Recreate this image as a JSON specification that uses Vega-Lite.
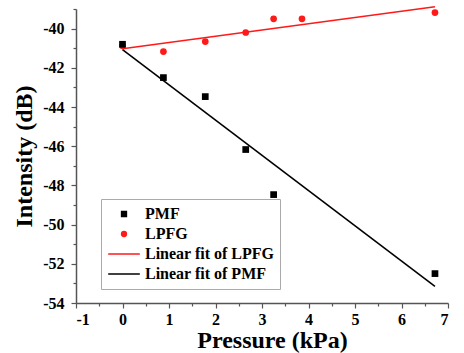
{
  "$schema": "https://vega.github.io/schema/vega-lite/v6.json",
  "width": 372,
  "height": 294,
  "autosize": {"type": "none"},
  "padding": {"left": 76, "top": 9, "right": 16, "bottom": 50},
  "background": "white",
  "config": {
    "view": {"stroke": null},
    "font": "Liberation Serif",
    "locale": {
      "number": {
        "decimal": ".",
        "thousands": ",",
        "grouping": [3],
        "currency": ["$", ""],
        "minus": "-"
      }
    }
  },
  "data": {
    "values": [
      {"sample": "LPFG", "fit": "Linear fit of LPFG", "pressure": 0, "intensity": -40.88},
      {"sample": "LPFG", "fit": "Linear fit of LPFG", "pressure": 0.88, "intensity": -41.17},
      {"sample": "LPFG", "fit": "Linear fit of LPFG", "pressure": 1.78, "intensity": -40.66},
      {"sample": "LPFG", "fit": "Linear fit of LPFG", "pressure": 2.65, "intensity": -40.2},
      {"sample": "LPFG", "fit": "Linear fit of LPFG", "pressure": 3.25, "intensity": -39.5},
      {"sample": "LPFG", "fit": "Linear fit of LPFG", "pressure": 3.86, "intensity": -39.5},
      {"sample": "LPFG", "fit": "Linear fit of LPFG", "pressure": 6.72, "intensity": -39.18},
      {"sample": "PMF", "fit": "Linear fit of PMF", "pressure": 0, "intensity": -40.8},
      {"sample": "PMF", "fit": "Linear fit of PMF", "pressure": 0.88, "intensity": -42.5},
      {"sample": "PMF", "fit": "Linear fit of PMF", "pressure": 1.78, "intensity": -43.47},
      {"sample": "PMF", "fit": "Linear fit of PMF", "pressure": 2.65, "intensity": -46.17},
      {"sample": "PMF", "fit": "Linear fit of PMF", "pressure": 3.25, "intensity": -48.47},
      {"sample": "PMF", "fit": "Linear fit of PMF", "pressure": 6.72, "intensity": -52.5}
    ]
  },
  "layer": [
    {
      "transform": [
        {"regression": "intensity", "on": "pressure", "groupby": ["fit"]}
      ],
      "mark": {"type": "line", "strokeWidth": 1.6},
      "encoding": {
        "x": {
          "field": "pressure",
          "type": "quantitative",
          "scale": {"domain": [-1, 7], "nice": false},
          "axis": {
            "orient": "bottom",
            "values": [-0.5, 0.5, 1.5, 2.5, 3.5, 4.5, 5.5, 6.5],
            "labels": false,
            "domain": false,
            "grid": false,
            "ticks": true,
            "tickColor": "#555555",
            "tickWidth": 1.2,
            "tickSize": 3,
            "title": null
          }
        },
        "y": {
          "field": "intensity",
          "type": "quantitative",
          "scale": {"domain": [-54, -39], "nice": false, "zero": false},
          "axis": {
            "orient": "left",
            "values": [-53, -51, -49, -47, -45, -43, -41, -39],
            "labels": false,
            "domain": false,
            "grid": false,
            "ticks": true,
            "tickColor": "#555555",
            "tickWidth": 1.2,
            "tickSize": 3,
            "title": null
          }
        },
        "color": {
          "field": "fit",
          "type": "nominal",
          "scale": {
            "domain": ["PMF", "LPFG", "Linear fit of LPFG", "Linear fit of PMF"],
            "range": ["#000000", "#ff1a1a", "#ff1a1a", "#000000"]
          },
          "legend": {"title": null}
        },
        "detail": {"field": "fit"}
      }
    },
    {
      "mark": {"type": "point", "filled": true, "opacity": 1},
      "encoding": {
        "x": {
          "field": "pressure",
          "type": "quantitative",
          "axis": {
            "orient": "bottom",
            "values": [-1, 0, 1, 2, 3, 4, 5, 6, 7],
            "grid": false,
            "domainColor": "#555555",
            "domainWidth": 1.5,
            "tickColor": "#555555",
            "tickWidth": 1.2,
            "tickSize": 5,
            "labelFont": "Liberation Serif",
            "labelFontWeight": "bold",
            "labelFontSize": 16,
            "labelColor": "#000000",
            "labelPadding": 3,
            "title": "Pressure (kPa)",
            "titleFont": "Liberation Serif",
            "titleFontWeight": "bold",
            "titleFontSize": 24,
            "titleColor": "#000000",
            "titlePadding": 1,
            "titleX": 196
          }
        },
        "y": {
          "field": "intensity",
          "type": "quantitative",
          "axis": {
            "orient": "left",
            "values": [-54, -52, -50, -48, -46, -44, -42, -40],
            "grid": false,
            "domainColor": "#555555",
            "domainWidth": 1.5,
            "tickColor": "#555555",
            "tickWidth": 1.2,
            "tickSize": 5,
            "labelFont": "Liberation Serif",
            "labelFontWeight": "bold",
            "labelFontSize": 16,
            "labelColor": "#000000",
            "labelPadding": 7,
            "title": "Intensity (dB)",
            "titleFont": "Liberation Serif",
            "titleFontWeight": "bold",
            "titleFontSize": 24,
            "titleColor": "#000000",
            "titlePadding": 6
          }
        },
        "color": {
          "field": "sample",
          "type": "nominal",
          "scale": {
            "domain": ["PMF", "LPFG", "Linear fit of LPFG", "Linear fit of PMF"],
            "range": ["#000000", "#ff1a1a", "#ff1a1a", "#000000"]
          },
          "legend": {
            "title": null,
            "orient": "none",
            "legendX": 25,
            "legendY": 190,
            "padding": 5,
            "strokeColor": "#aaaaaa",
            "fillColor": "white",
            "labelFont": "Liberation Serif",
            "labelFontWeight": "bold",
            "labelFontSize": 16,
            "labelColor": "#000000",
            "symbolOffset": 10,
            "labelOffset": 13,
            "clipHeight": 20,
            "rowPadding": 0,
            "symbolSize": 40,
            "symbolOpacity": 1,
            "encode": {
              "symbols": {
                "update": {
                  "stroke": {"scale": "color", "field": "value"},
                  "strokeWidth": {"signal": "indexof(['PMF', 'LPFG'], datum.value) < 0 ? 1.6 : 0"}
                }
              }
            }
          }
        },
        "shape": {
          "field": "sample",
          "type": "nominal",
          "scale": {
            "domain": ["PMF", "LPFG", "Linear fit of LPFG", "Linear fit of PMF"],
            "range": ["square", "circle", "M-5,0H5", "M-5,0H5"]
          },
          "legend": {"title": null}
        },
        "size": {"value": 45},
        "order": {"field": "sample", "sort": "ascending"}
      }
    }
  ],
  "resolve": {"axis": {"x": "independent", "y": "independent"}}
}
